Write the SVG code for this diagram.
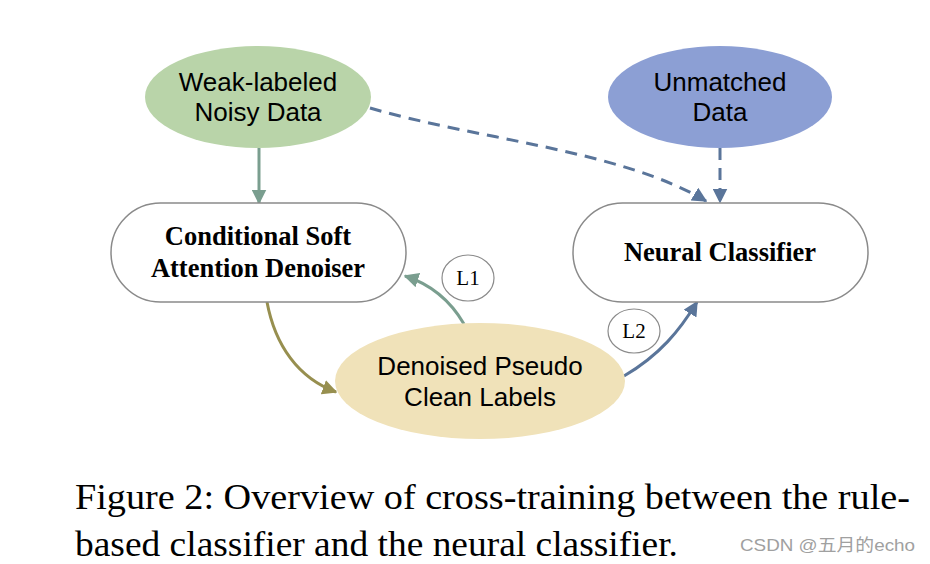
<svg xmlns="http://www.w3.org/2000/svg" width="930" height="564" viewBox="0 0 930 564">
<defs>
<style>
.sans{font-family:"Liberation Sans",Arial,sans-serif;font-size:26px;fill:#000;text-anchor:middle}
.bold{font-family:"Liberation Serif","Times New Roman",serif;font-size:26.5px;font-weight:bold;fill:#000;text-anchor:middle}
.lab{font-family:"Liberation Serif","Times New Roman",serif;font-size:21px;fill:#000;text-anchor:middle}
.cap{font-family:"Liberation Serif","Times New Roman",serif;font-size:35px;fill:#000}
.box{fill:#fff;stroke:#8a8a8a;stroke-width:1.5}
.lc{fill:#fff;stroke:#8a8a8a;stroke-width:1.2}
.e{fill:none;stroke-width:3}
</style>
<marker id="mo" viewBox="0 0 10 10" refX="9" refY="5" markerWidth="5" markerHeight="5" orient="auto"><path d="M0,0L10,5L0,10z" fill="#978f4f"/></marker>
<marker id="mb" viewBox="0 0 10 10" refX="9" refY="5" markerWidth="5" markerHeight="5" orient="auto"><path d="M0,0L10,5L0,10z" fill="#5a759a"/></marker>
<marker id="mg" viewBox="0 0 10 10" refX="9" refY="5" markerWidth="5" markerHeight="5" orient="auto"><path d="M0,0L10,5L0,10z" fill="#7a9e8f"/></marker>
</defs>
<rect width="930" height="564" fill="#fff"/>
<g id="connectors">
<path class="e" d="M259,148 L259,203" stroke="#7a9e8f" marker-end="url(#mg)"/>
<path class="e" d="M370,108 C480,140 620,150 706,201" stroke="#5a759a" stroke-dasharray="12,8" marker-end="url(#mb)"/>
<path class="e" d="M720,148 L720,202" stroke="#5a759a" stroke-dasharray="12,8" marker-end="url(#mb)"/>
<path class="e" d="M267,302 C275,345 298,378 336,392" stroke="#978f4f" marker-end="url(#mo)"/>
<path class="e" d="M464,324 C450,300 430,284 405,276" stroke="#7a9e8f" marker-end="url(#mg)"/>
<path class="e" d="M624,376 C660,355 680,330 697,302" stroke="#5a759a" marker-end="url(#mb)"/>
</g>
<g id="weak"><ellipse cx="258" cy="97" rx="113" ry="51" fill="#b9d4a9"/><text class="sans" x="258" y="91">Weak-labeled</text><text class="sans" x="258" y="121">Noisy Data</text></g>
<g id="unmatched"><ellipse cx="720" cy="97" rx="112" ry="51" fill="#8c9fd4"/><text class="sans" x="720" y="91">Unmatched</text><text class="sans" x="720" y="121">Data</text></g>
<g id="denoiser"><rect class="box" x="111" y="203" width="295" height="99" rx="49.5"/><text class="bold" x="258" y="245">Conditional Soft</text><text class="bold" x="258" y="277">Attention Denoiser</text></g>
<g id="neural"><rect class="box" x="573" y="203" width="295" height="99" rx="49.5"/><text class="bold" x="720" y="261">Neural Classifier</text></g>
<g id="pseudo"><ellipse cx="480" cy="381" rx="145" ry="58" fill="#f0e2b9"/><text class="sans" x="480" y="375">Denoised Pseudo</text><text class="sans" x="480" y="406">Clean Labels</text></g>
<g id="l1"><ellipse class="lc" cx="468" cy="278" rx="26" ry="23"/><text class="lab" x="468" y="285">L1</text></g>
<g id="l2"><ellipse class="lc" cx="634" cy="331" rx="26" ry="22"/><text class="lab" x="634" y="338">L2</text></g>
<g id="caption">
<text class="cap" x="75" y="509" textLength="835" lengthAdjust="spacingAndGlyphs">Figure 2: Overview of cross-training between the rule-</text>
<text class="cap" x="75" y="556" textLength="603" lengthAdjust="spacingAndGlyphs">based classifier and the neural classifier.</text>
<text x="740" y="551" font-family="'Liberation Sans','Noto Sans CJK SC',sans-serif" font-size="17" fill="#a0a0a0" textLength="175" lengthAdjust="spacingAndGlyphs">CSDN @五月的echo</text>
</g>
</svg>
